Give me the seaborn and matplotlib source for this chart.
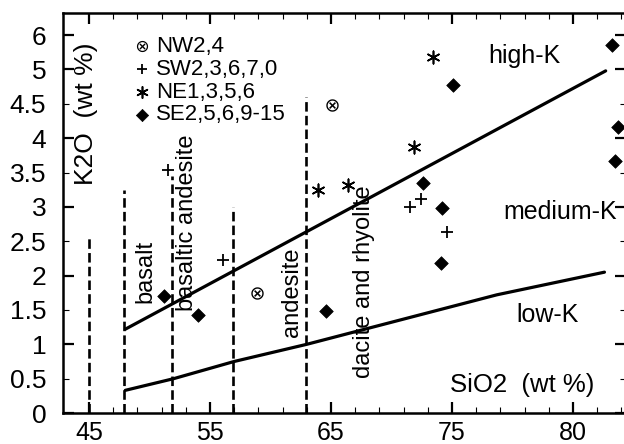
import numpy as np
import pandas as pd
import matplotlib
matplotlib.use("Agg")
import matplotlib.pyplot as plt
import seaborn as sns

# ---------------- data ----------------
nw_x = [65.06, 58.86]
nw_y = [4.48, 1.74]
sw_x = [51.5, 56.1, 71.5, 72.4, 74.6]
sw_y = [3.54, 2.23, 3.00, 3.11, 2.64]
ne_x = [63.95, 66.4, 71.9, 73.4]
ne_y = [3.25, 3.32, 3.87, 5.18]
se_x = [51.2, 54.0, 64.6, 72.6, 74.2, 74.1, 75.1, 88.2, 88.7, 88.5]
se_y = [1.70, 1.42, 1.48, 3.35, 2.99, 2.19, 4.77, 5.36, 4.16, 3.67]

series_labels = ["NW2,4", "SW2,3,6,7,0", "NE1,3,5,6", "SE2,5,6,9-15"]

highk_x = [48.0, 87.7]
highk_y = [1.22, 4.98]
lowk_x = [48.0, 52.0, 57.0, 63.0, 78.7, 87.6]
lowk_y = [0.33, 0.50, 0.75, 1.00, 1.72, 2.05]

bound_x = [45.0, 47.9, 51.85, 56.93, 62.9]
bound_top = [2.56, 3.25, 3.45, 3.00, 4.60]

x_major = [45, 55, 65, 75, 85]
x_major_labels = ["45", "55", "65", "75", "80"]
y_major = [0, 1, 2, 3, 4, 5, 5.5]
y_major_labels = ["0", "1", "2", "3", "4", "5", "6"]
y_minor = [0.5, 1.5, 2.5, 3.5, 4.5]
y_minor_labels = ["0.5", "1.5", "2.5", "3.5", "4.5"]

rock_names = ["basalt", "basaltic andesite", "andesite", "dacite and rhyolite"]
rock_x = [49.67, 53.14, 61.75, 67.7]
rock_y = [1.60, 1.48, 1.11, 0.505]

# ---------------- style ----------------
sns.set_theme(style="ticks")
plt.rcParams["font.family"] = ["Liberation Sans", "DejaVu Sans"]
plt.rcParams["text.color"] = "black"

W, H = 624, 444
fig = plt.figure(figsize=(W / 100, H / 100), dpi=100)
ax_l, ax_r, ax_t, ax_b = 63, 626, 13, 413
ax = fig.add_axes([ax_l / W, 1 - ax_b / H, (ax_r - ax_l) / W, (ax_b - ax_t) / H])

px_per_x = 12.1
px_per_y = 68.7
ax.set_xlim(65 + (ax_l - 331) / px_per_x, 65 + (ax_r - 331) / px_per_x)
ax.set_ylim(0, (ax_b - ax_t) / px_per_y)

# boundary lines
sns.lineplot(x=highk_x, y=highk_y, ax=ax, color="black", lw=2.3, sort=False)
sns.lineplot(x=lowk_x, y=lowk_y, ax=ax, color="black", lw=2.3, sort=False)
ax.vlines(bound_x, 0, bound_top, colors="black", lw=1.9, linestyles=(0, (3.6, 1.6)))

# scatter groups
sns.scatterplot(x=nw_x, y=nw_y, ax=ax, marker="$\\otimes$", s=80, color="black",
                linewidth=0, label=series_labels[0])
sns.scatterplot(x=sw_x, y=sw_y, ax=ax, marker="+", s=75, color="black",
                linewidth=1.3, label=series_labels[1])
sns.scatterplot(x=ne_x, y=ne_y, ax=ax, marker=(6, 2, 0), s=80, color="black",
                linewidth=1.2, label=series_labels[2])
sns.scatterplot(x=se_x, y=se_y, ax=ax, marker="D", s=48, color="black",
                edgecolor="black", linewidth=0.5, label=series_labels[3])

# legend
ax.legend(loc="upper left", bbox_to_anchor=(135 / W, 1 - 36 / H),
          bbox_transform=fig.transFigure, frameon=False, fontsize=16,
          handlelength=0.65, handletextpad=0.3, labelspacing=0.08,
          borderpad=0, borderaxespad=0, markerscale=0.9)

# rock labels
for name, xx, yy in zip(rock_names, rock_x, rock_y):
    ax.text(xx, yy, name, rotation=90, rotation_mode="anchor", ha="left",
            va="center", fontsize=17, color="black")

fs = 18
ax.text(81.0, 5.09, "high-K", ha="center", va="baseline", fontsize=fs)
ax.text(88.6, 2.83, "medium-K", ha="right", va="baseline", fontsize=fs)
ax.text(80.35, 1.33, "low-K", ha="left", va="baseline", fontsize=fs)
ax.text(74.83, 0.31, "SiO2  (wt %)", ha="left", va="baseline", fontsize=18.5)
ax.text(44.75, 4.35, "K2O  (wt %)", rotation=90, rotation_mode="anchor",
        ha="center", va="center", fontsize=19)

# ticks
ax.set_xticks(x_major)
ax.set_xticklabels(x_major_labels)
ax.set_xticks([x for x in range(47, 90, 2) if x not in x_major], minor=True)
ax.set_yticks(y_major)
ax.set_yticklabels(y_major_labels)
ax.set_yticks(y_minor, minor=True)
ax.set_yticklabels(y_minor_labels, minor=True)

ax.tick_params(which="both", direction="in", top=True, right=True, colors="black")
ax.tick_params(axis="x", which="both", labelsize=18, pad=6)
ax.tick_params(axis="y", which="both", labelsize=19, pad=12)
ax.tick_params(which="major", length=8, width=1.6)
ax.tick_params(which="minor", length=4, width=0.8)

for sp in ax.spines.values():
    sp.set_linewidth(1.8)
    sp.set_color("black")
ax.set_xlabel("")
ax.set_ylabel("")

fig.savefig("out.png", dpi=100, facecolor="white")
